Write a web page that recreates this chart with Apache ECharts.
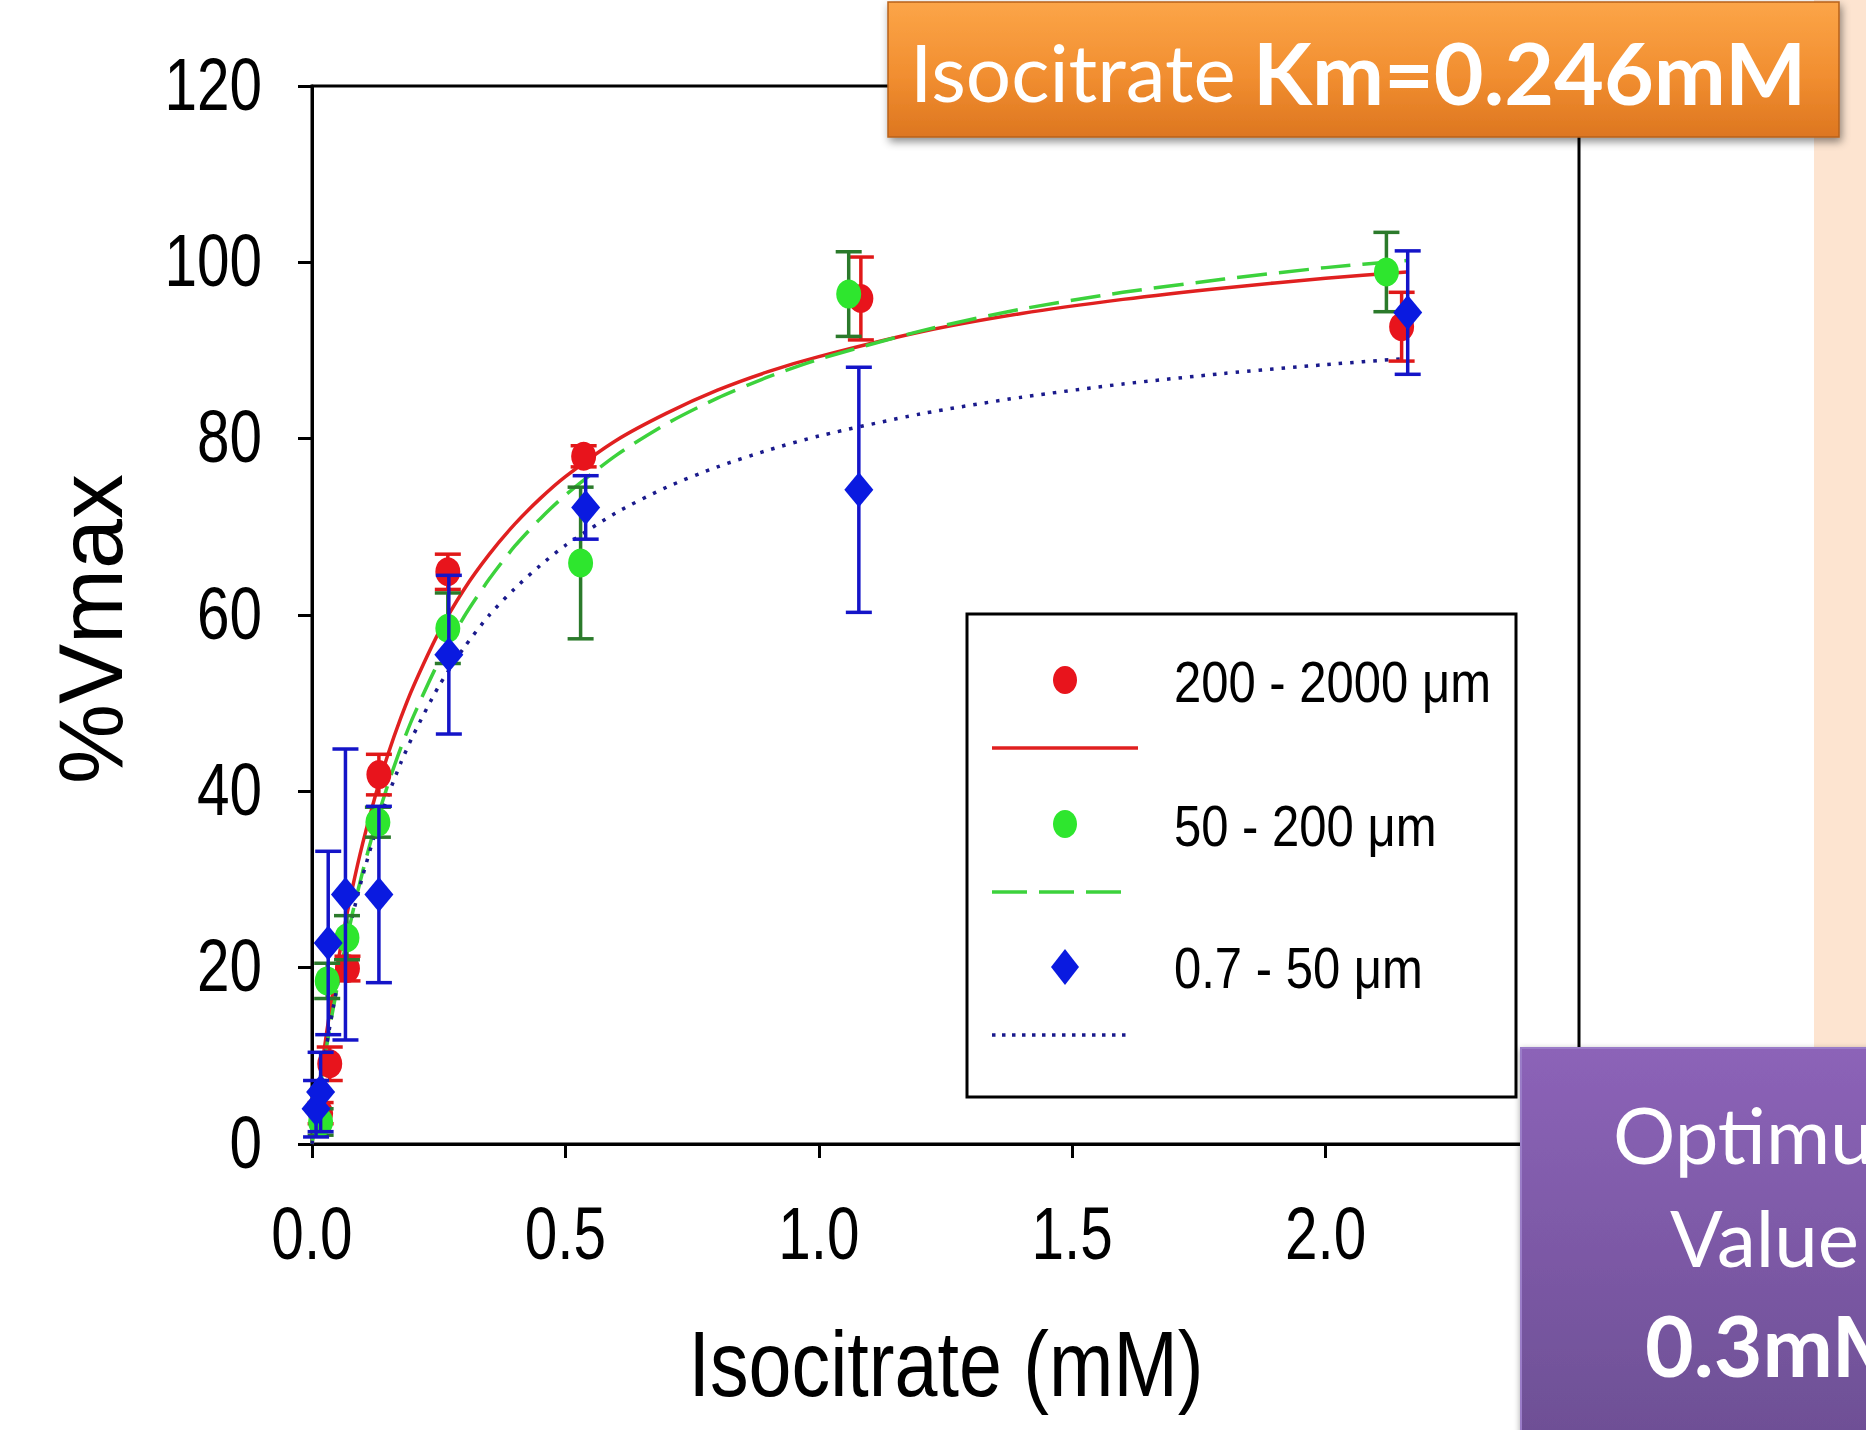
<!DOCTYPE html>
<html>
<head>
<meta charset="utf-8">
<script src="https://cdn.jsdelivr.net/npm/echarts@6/dist/echarts.min.js"></script>
<style>
html,body{margin:0;padding:0;background:#fff;}
#chart{width:1866px;height:1430px;}
</style>
</head>
<body>
<div id="chart"></div>
<script>
// ---------------- data ----------------
const seriesNames = ['200 - 2000 \u03bcm', '50 - 200 \u03bcm', '0.7 - 50 \u03bcm'];

const xTicks = [0.0, 0.5, 1.0, 1.5, 2.0];
const xTickLabels = ['0.0', '0.5', '1.0', '1.5', '2.0'];
const yTicks = [0, 20, 40, 60, 80, 100, 120];
const yTickLabels = ['0', '20', '40', '60', '80', '100', '120'];

// 200 - 2000 um (red circles)
const redX   = [0.017, 0.035, 0.070, 0.132, 0.268, 0.536, 1.083, 2.150];
const redY   = [3.5, 9.1, 19.9, 41.9, 64.9, 78.0, 95.9, 92.7];
const redErr = [1.2, 1.9, 1.4, 2.3, 2.0, 1.2, 4.7, 3.9];

// 50 - 200 um (green circles)
const greenX   = [0.017, 0.030, 0.069, 0.130, 0.268, 0.530, 1.059, 2.120];
const greenY   = [2.5, 18.5, 23.4, 36.5, 58.5, 65.9, 96.4, 98.9];
const greenErr = [1.5, 2.0, 2.5, 1.7, 4.0, 8.6, 4.8, 4.5];

// 0.7 - 50 um (blue diamonds)
const blueX   = [0.008, 0.017, 0.032, 0.066, 0.132, 0.270, 0.540, 1.079, 2.162];
const blueY   = [4.0, 5.9, 22.8, 28.3, 28.3, 55.5, 72.2, 74.2, 94.3];
const blueErr = [3.2, 4.5, 10.4, 16.5, 10.0, 9.0, 3.6, 13.9, 7.0];

// fitted curves, values
const curveX     = [0, 0.02, 0.04, 0.06, 0.08, 0.1, 0.125, 0.15, 0.175, 0.2, 0.25, 0.3, 0.35, 0.4, 0.45, 0.5, 0.6, 0.7, 0.8, 0.9, 1.0, 1.2, 1.4, 1.6, 1.8, 2.0, 2.16];
const redCurve   = [0, 9.1, 16.8, 23.4, 29.1, 34.1, 39.5, 44.2, 48.3, 51.9, 58.0, 62.9, 66.9, 70.3, 73.2, 75.7, 79.8, 82.9, 85.5, 87.6, 89.3, 92.1, 94.2, 95.8, 97.1, 98.2, 98.9];
const greenCurve = [0, 7.9, 14.8, 20.8, 26.2, 30.9, 36.2, 40.8, 44.9, 48.5, 54.7, 59.8, 64.1, 67.8, 70.9, 73.6, 78.1, 81.7, 84.6, 87.0, 89.0, 92.2, 94.7, 96.6, 98.1, 99.4, 100.2];
const blueCurve  = [0, 8.1, 14.9, 20.8, 25.9, 30.4, 35.3, 39.5, 43.2, 46.4, 51.9, 56.3, 60.0, 63.0, 65.6, 67.9, 71.6, 74.5, 76.8, 78.7, 80.3, 82.8, 84.7, 86.2, 87.4, 88.4, 89.1];

const titleNormal = 'Isocitrate';
const titleBold = 'Km=0.246mM';
const noteLines = ['Optimum', 'Value', '0.3mM'];
const xName = 'Isocitrate (mM)';
const yName = '%Vmax';

// ---------------- styles ----------------
const RED = '#E8141C', GREEN = '#2EE62E', BLUE = '#0A1AE0';
const RED_ERR = '#E01818', GREEN_ERR = '#2B7A2B', BLUE_ERR = '#1414C8';
const RED_LINE = '#E02020', GREEN_LINE = '#3CD23C', BLUE_LINE = '#1A1A8C';
const SANS = '"Liberation Sans", Arial, sans-serif';
const BOX_FONT = 'Lato, "Open Sans", sans-serif';
const NARROW = 0.79;

const zip = (xs, ys) => xs.map((x, i) => [x, ys[i]]);
const errData = (xs, ys, es) => xs.map((x, i) => [x, ys[i] - es[i], ys[i] + es[i]]);

function errRender(color) {
  return function (params, api) {
    const x = api.value(0), lo = api.value(1), hi = api.value(2);
    const pLo = api.coord([x, lo]), pHi = api.coord([x, hi]);
    const cap = 13;
    const style = { stroke: color, lineWidth: 3.5, fill: null };
    return {
      type: 'group',
      children: [
        { type: 'line', shape: { x1: pLo[0], y1: pLo[1], x2: pHi[0], y2: pHi[1] }, style },
        { type: 'line', shape: { x1: pLo[0] - cap, y1: pLo[1], x2: pLo[0] + cap, y2: pLo[1] }, style },
        { type: 'line', shape: { x1: pHi[0] - cap, y1: pHi[1], x2: pHi[0] + cap, y2: pHi[1] }, style }
      ]
    };
  };
}

// tick labels placed through the axes' scales (condensed like the original)
function tickLabelSeries(axis) {
  const vals = axis === 'x' ? xTicks : yTicks;
  const labels = axis === 'x' ? xTickLabels : yTickLabels;
  return {
    type: 'custom', silent: true, clip: false, z: 10,
    data: vals.map((v, i) => [v, i]),
    encode: axis === 'x' ? { x: 0 } : { y: 0 },
    renderItem(params, api) {
      const v = api.value(0), i = api.value(1);
      if (axis === 'x') {
        const p = api.coord([v, 0]);
        return { type: 'text', x: p[0], y: p[1] + 52, scaleX: NARROW,
          style: { text: labels[i], x: 0, y: 0, font: '74px ' + SANS, fill: '#000', align: 'center', verticalAlign: 'top' } };
      }
      const p = api.coord([0, v]);
      return { type: 'text', x: p[0] - 50, y: p[1] - 2, scaleX: NARROW,
        style: { text: labels[i], x: 0, y: 0, font: '74px ' + SANS, fill: '#000', align: 'right', verticalAlign: 'middle' } };
    }
  };
}

function curveSeries(name, data, color, type, width, z) {
  return {
    name, type: 'line', data, smooth: 0.25,
    showSymbol: false, symbol: 'none', silent: true, z,
    lineStyle: { color, width, type }
  };
}
function errSeries(data, color, z) {
  return {
    type: 'custom', data, renderItem: errRender(color), silent: true, z,
    encode: { x: 0, y: [1, 2] }
  };
}
function pointSeries(name, data, color, symbol, size, z) {
  return {
    name, type: 'scatter', data, symbol, symbolSize: size, z, silent: true,
    itemStyle: { color, opacity: 1 }
  };
}

// ---------------- legend drawn as graphics ----------------
const LX = 967, LY = 614, LW = 549, LH = 483;
function legendText(y, s) {
  return { type: 'text', z: 51, x: 1174, y, scaleX: 0.86,
    style: { x: 0, y: 0, text: s, font: '57px ' + SANS, fill: '#000', verticalAlign: 'middle' } };
}
const legendGraphics = [
  { type: 'rect', z: 50, shape: { x: LX, y: LY, width: LW, height: LH },
    style: { fill: '#fff', stroke: '#000', lineWidth: 3 } },
  { type: 'ellipse', z: 51, shape: { cx: 1065, cy: 680, rx: 12, ry: 14 }, style: { fill: RED } },
  { type: 'line', z: 51, shape: { x1: 992, y1: 748, x2: 1138, y2: 748 }, style: { stroke: RED_LINE, lineWidth: 3.5 } },
  { type: 'ellipse', z: 51, shape: { cx: 1065, cy: 824, rx: 12, ry: 14 }, style: { fill: GREEN } },
  { type: 'line', z: 51, shape: { x1: 992, y1: 892, x2: 1126, y2: 892 }, style: { stroke: GREEN_LINE, lineWidth: 3.5, lineDash: [35, 12] } },
  { type: 'polygon', z: 51, shape: { points: [[1065, 949], [1079, 967], [1065, 985], [1051, 967]] }, style: { fill: BLUE } },
  { type: 'line', z: 51, shape: { x1: 992, y1: 1035, x2: 1130, y2: 1035 }, style: { stroke: BLUE_LINE, lineWidth: 3.5, lineDash: [3.5, 6.5] } },
  legendText(682, seriesNames[0]),
  legendText(826, seriesNames[1]),
  legendText(968, seriesNames[2])
];

const axisNameGraphics = [
  { type: 'text', z: 20, x: 946, y: 1318, scaleX: 0.84,
    style: { x: 0, y: 0, text: xName, font: '92px ' + SANS, fill: '#000', align: 'center', verticalAlign: 'top' } }
];

const boxGraphics = [
  // peach side strip
  { type: 'rect', z: 90, shape: { x: 1814, y: 0, width: 52, height: 1430 }, style: { fill: '#FDE4D0' } },
  // orange title box
  { type: 'rect', z: 100, shape: { x: 888, y: 2, width: 951, height: 135 },
    style: {
      fill: new echarts.graphic.LinearGradient(0, 0, 0, 1, [
        { offset: 0, color: '#FCA548' }, { offset: 0.55, color: '#F18E30' }, { offset: 1, color: '#DD7620' }
      ]),
      stroke: '#B8621A', lineWidth: 1.5,
      shadowBlur: 8, shadowOffsetX: 2, shadowOffsetY: 4, shadowColor: 'rgba(0,0,0,0.45)'
    } },
  { type: 'text', z: 101, style: { x: 910, y: 71, text: titleNormal, font: '80px ' + BOX_FONT, fill: '#fff', verticalAlign: 'middle' } },
  { type: 'text', z: 101, style: { x: 1253, y: 71, text: titleBold, font: 'bold 86px ' + BOX_FONT, fill: '#fff', verticalAlign: 'middle' } },
  // purple note box
  { type: 'rect', z: 100, shape: { x: 1521, y: 1048, width: 400, height: 420 },
    style: {
      fill: new echarts.graphic.LinearGradient(0, 0, 0, 1, [
        { offset: 0, color: '#8C63B8' }, { offset: 1, color: '#6B4E92' }
      ]),
      stroke: '#9A7CC8', lineWidth: 2,
      shadowBlur: 6, shadowOffsetX: 0, shadowOffsetY: 2, shadowColor: 'rgba(0,0,0,0.35)'
    } },
  { type: 'text', z: 101, style: { x: 1613, y: 1134, text: noteLines[0], font: '78px ' + BOX_FONT, fill: '#fff', verticalAlign: 'middle' } },
  { type: 'text', z: 101, style: { x: 1670, y: 1237, text: noteLines[1], font: '78px ' + BOX_FONT, fill: '#fff', verticalAlign: 'middle' } },
  { type: 'text', z: 101, style: { x: 1645, y: 1344, text: noteLines[2], font: 'bold 84px ' + BOX_FONT, fill: '#fff', verticalAlign: 'middle' } }
];

const chart = echarts.init(document.getElementById('chart'), null, { renderer: 'svg' });
chart.setOption({
  backgroundColor: '#fff',
  animation: false,
  grid: { left: 312, right: 287, top: 86, bottom: 286, show: true, borderColor: '#000', borderWidth: 3, backgroundColor: 'transparent' },
  xAxis: {
    type: 'value', min: 0, max: 2.5, interval: 0.5,
    axisLine: { show: true, onZero: false, lineStyle: { color: '#000', width: 3 } },
    axisTick: { show: true, inside: false, length: 14, lineStyle: { color: '#000', width: 3 } },
    axisLabel: { show: false },
    splitLine: { show: false }
  },
  yAxis: {
    type: 'value', min: 0, max: 120, interval: 20,
    name: yName, nameLocation: 'middle', nameGap: 176, nameRotate: 90,
    nameTextStyle: { fontFamily: SANS, fontSize: 90, color: '#000', padding: [0, 28, 0, 0] },
    axisLine: { show: true, onZero: false, lineStyle: { color: '#000', width: 3 } },
    axisTick: { show: true, inside: false, length: 14, lineStyle: { color: '#000', width: 3 } },
    axisLabel: { show: false },
    splitLine: { show: false }
  },
  series: [
    curveSeries(seriesNames[0] + ' fit', zip(curveX, redCurve), RED_LINE, 'solid', 3.5, 2),
    curveSeries(seriesNames[1] + ' fit', zip(curveX, greenCurve), GREEN_LINE, [30, 12], 3.5, 2),
    curveSeries(seriesNames[2] + ' fit', zip(curveX, blueCurve), BLUE_LINE, [3.5, 8], 3.5, 2),
    errSeries(errData(redX, redY, redErr), RED_ERR, 3),
    pointSeries(seriesNames[0], zip(redX, redY), RED, 'circle', [25, 29], 4),
    errSeries(errData(greenX, greenY, greenErr), GREEN_ERR, 5),
    pointSeries(seriesNames[1], zip(greenX, greenY), GREEN, 'circle', [25, 29], 6),
    errSeries(errData(blueX, blueY, blueErr), BLUE_ERR, 7),
    pointSeries(seriesNames[2], zip(blueX, blueY), BLUE, 'diamond', [29, 35], 8),
    tickLabelSeries('x'),
    tickLabelSeries('y')
  ],
  graphic: legendGraphics.concat(axisNameGraphics, boxGraphics)
});
</script>
</body>
</html>
